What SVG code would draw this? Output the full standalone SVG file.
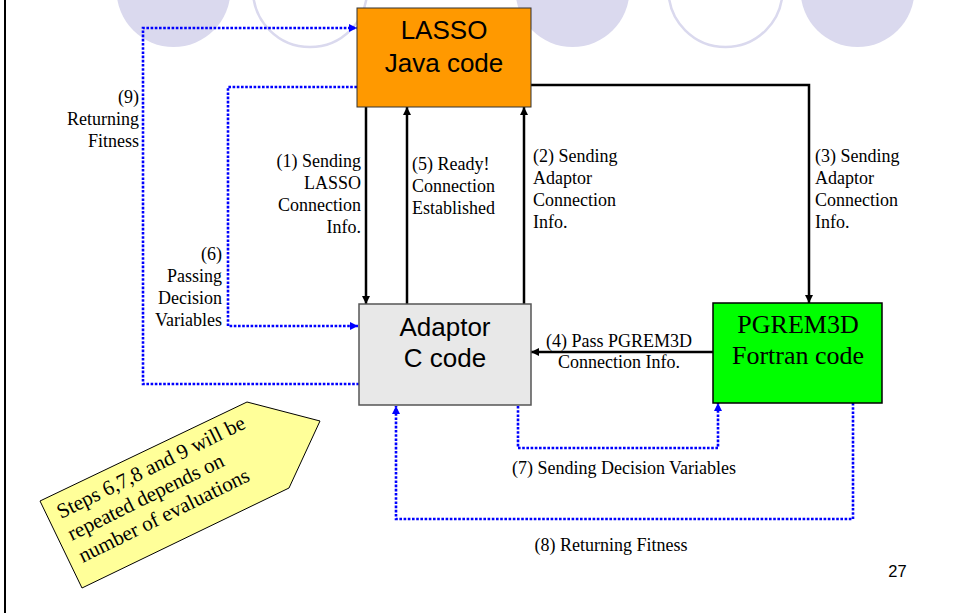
<svg xmlns="http://www.w3.org/2000/svg" width="956" height="613" viewBox="0 0 956 613">
<defs>
<style>
.deco-fill{fill:#DAD9EE;stroke:none}
.deco-ring{fill:#FFFFFF;stroke:#DAD9EE;stroke-width:2.5}
.solid{fill:none;stroke:#000;stroke-width:2.5}
.dot{fill:none;stroke:#0000FF;stroke-width:2.6;stroke-dasharray:2.6 1.6}
.lbl{font-family:"Liberation Serif","Times New Roman",serif;font-size:18px;fill:#000}
.node-sans{font-family:"Liberation Sans",Arial,sans-serif;font-size:26px;fill:#000;text-anchor:middle}
.node-serif{font-family:"Liberation Serif","Times New Roman",serif;font-size:26px;fill:#000;text-anchor:middle}
.end{text-anchor:end}
.mid{text-anchor:middle}
</style>
<marker id="ab" viewBox="0 0 10 10" refX="10" refY="5" markerWidth="8" markerHeight="9" markerUnits="userSpaceOnUse" orient="auto">
<path d="M0,0 L10,5 L0,10 z" fill="#000"/>
</marker>
<marker id="au" viewBox="0 0 10 10" refX="10" refY="5" markerWidth="8" markerHeight="9" markerUnits="userSpaceOnUse" orient="auto">
<path d="M0,0 L10,5 L0,10 z" fill="#0000FF"/>
</marker>
</defs>
<rect x="0" y="0" width="956" height="613" fill="#FFFFFF"/>
<g id="decoration">
<circle class="deco-fill" cx="173.5" cy="-10" r="57"/>
<circle class="deco-ring" cx="310" cy="-10" r="57"/>
<circle class="deco-fill" cx="572.5" cy="-10" r="57"/>
<circle class="deco-ring" cx="725.5" cy="-10" r="57"/>
<circle class="deco-fill" cx="857.5" cy="-10" r="57"/>
<line x1="5" y1="0" x2="5" y2="613" stroke="#000" stroke-width="2"/>
</g>
<g id="connectors">
<path class="solid" d="M366,107 L366,304" marker-end="url(#ab)"/>
<path class="solid" d="M407,304 L407,107" marker-end="url(#ab)"/>
<path class="solid" d="M524,304 L524,107" marker-end="url(#ab)"/>
<path class="solid" d="M531,85 L809,85 L809,303" marker-end="url(#ab)"/>
<path class="solid" d="M713,352 L531,352" marker-end="url(#ab)"/>
<path class="dot" d="M359,384 L143,384 L143,28 L357,28" marker-end="url(#au)"/>
<path class="dot" d="M357,87 L228,87 L228,326 L358,326" marker-end="url(#au)"/>
<path class="dot" d="M518,406 L518,448 L718,448 L718,403" marker-end="url(#au)"/>
<path class="dot" d="M853,403 L853,519 L396,519 L396,406" marker-end="url(#au)"/>
</g>
<g id="lasso">
<rect x="357" y="8" width="174" height="99" fill="#FF9900" stroke="#333" stroke-width="1"/>
<text class="node-sans" x="444" y="39">LASSO</text>
<text class="node-sans" x="444" y="72">Java code</text>
</g>
<g id="adaptor">
<rect x="359" y="304" width="172" height="101" fill="#E8E8E8" stroke="#555" stroke-width="1.5"/>
<text class="node-sans" x="445" y="336">Adaptor</text>
<text class="node-sans" x="445" y="367">C code</text>
</g>
<g id="pgrem3d">
<rect x="713" y="303" width="169" height="100" fill="#00FF00" stroke="#000" stroke-width="1.5"/>
<text class="node-serif" x="798" y="333">PGREM3D</text>
<text class="node-serif" x="798" y="364">Fortran code</text>
</g>
<g id="labels">
<text class="lbl end" x="139"><tspan x="139" y="103">(9)</tspan><tspan x="139" y="125">Returning</tspan><tspan x="139" y="147">Fitness</tspan></text>
<text class="lbl end" x="222"><tspan x="222" y="260">(6)</tspan><tspan x="222" y="282">Passing</tspan><tspan x="222" y="304">Decision</tspan><tspan x="222" y="326">Variables</tspan></text>
<text class="lbl end" x="361"><tspan x="361" y="167">(1) Sending</tspan><tspan x="361" y="189">LASSO</tspan><tspan x="361" y="211">Connection</tspan><tspan x="361" y="233">Info.</tspan></text>
<text class="lbl" x="412"><tspan x="412" y="170">(5) Ready!</tspan><tspan x="412" y="192">Connection</tspan><tspan x="412" y="214">Established</tspan></text>
<text class="lbl" x="533"><tspan x="533" y="162">(2) Sending</tspan><tspan x="533" y="184">Adaptor</tspan><tspan x="533" y="206">Connection</tspan><tspan x="533" y="228">Info.</tspan></text>
<text class="lbl" x="815"><tspan x="815" y="162">(3) Sending</tspan><tspan x="815" y="184">Adaptor</tspan><tspan x="815" y="206">Connection</tspan><tspan x="815" y="228">Info.</tspan></text>
<text class="lbl mid" x="619"><tspan x="619" y="347">(4) Pass PGREM3D</tspan><tspan x="619" y="368">Connection Info.</tspan></text>
<text class="lbl mid" x="624" y="474">(7) Sending Decision Variables</text>
<text class="lbl mid" x="611" y="551">(8) Returning Fitness</text>
<text x="897.5" y="577" font-family="'Liberation Sans',Arial,sans-serif" font-size="16.5" text-anchor="middle">27</text>
</g>
<g id="callout">
<polygon points="40,501 247,402 320,421 289,488 82,588" fill="#FFFF99" stroke="#000" stroke-width="1"/>
<g transform="translate(61,519) rotate(-26.2)">
<text class="lbl" style="font-size:21px"><tspan x="0" y="0">Steps 6,7,8 and 9 will be</tspan><tspan x="0" y="24.5">repeated depends on</tspan><tspan x="0" y="49">number of evaluations</tspan></text>
</g>
</g>
</svg>
